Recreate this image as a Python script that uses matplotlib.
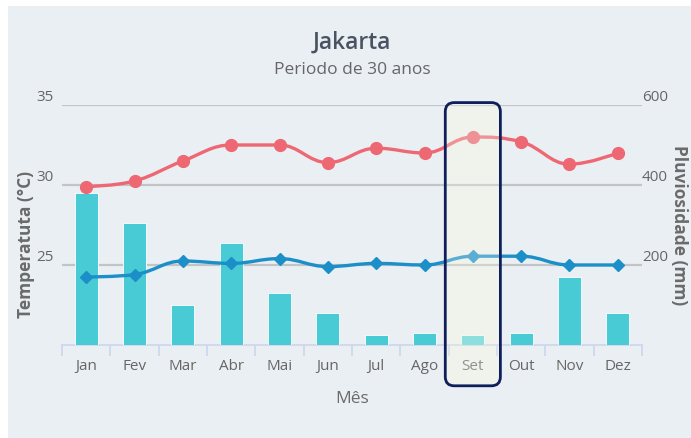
import matplotlib
matplotlib.use("Agg")
import matplotlib.pyplot as plt
from matplotlib.path import Path
from matplotlib.patches import PathPatch, Rectangle, FancyBboxPatch
from matplotlib.transforms import IdentityTransform
import numpy as np

plt.rcParams['font.family'] = ['Open Sans', 'DejaVu Sans']

months = ['Jan', 'Fev', 'Mar', 'Abr', 'Mai', 'Jun', 'Jul', 'Ago', 'Set', 'Out', 'Nov', 'Dez']
temp_max = [29.9, 30.25, 31.5, 32.5, 32.5, 31.4, 32.3, 32.0, 33.0, 32.7, 31.3, 32.0]
temp_min = [24.25, 24.4, 25.25, 25.1, 25.4, 24.9, 25.1, 25.0, 25.55, 25.55, 25.0, 25.0]
rain = [381, 306, 99, 256, 131, 81, 25, 31, 25, 31, 171, 81]
temp_ticks = [25, 30, 35]
rain_ticks = [200, 400, 600]
highlight = 'Set'

BG = '#EAEFF4'
RED = '#EE6873'
BLUE = '#1C8FC9'
BAR = '#48CBD5'
TXT = '#666666'


def spline_path(xs, ys):
    n = len(xs)
    lc = [(x, y) for x, y in zip(xs, ys)]
    rc = [(x, y) for x, y in zip(xs, ys)]
    s, d = 1.5, 2.5
    for i in range(1, n - 1):
        px, py = xs[i], ys[i]
        lx, ly = xs[i - 1], ys[i - 1]
        nx, ny = xs[i + 1], ys[i + 1]
        lcx = (s * px + lx) / d
        lcy = (s * py + ly) / d
        rcx = (s * px + nx) / d
        rcy = (s * py + ny) / d
        if rcx != lcx:
            corr = ((rcy - lcy) * (rcx - px)) / (rcx - lcx) + py - rcy
            lcy += corr
            rcy += corr
        if lcy > ly and lcy > py:
            lcy = max(ly, py)
            rcy = 2 * py - lcy
        elif lcy < ly and lcy < py:
            lcy = min(ly, py)
            rcy = 2 * py - lcy
        if rcy > ny and rcy > py:
            rcy = max(ny, py)
            lcy = 2 * py - rcy
        elif rcy < ny and rcy < py:
            rcy = min(ny, py)
            lcy = 2 * py - rcy
        lc[i] = (lcx, lcy)
        rc[i] = (rcx, rcy)
    verts = [(xs[0], ys[0])]
    codes = [Path.MOVETO]
    for i in range(1, n):
        verts += [rc[i - 1], lc[i], (xs[i], ys[i])]
        codes += [Path.CURVE4] * 3
    return Path(verts, codes)


fig = plt.figure(figsize=(6.91, 4.38), dpi=100, facecolor='white')
W, H = 691, 438
fig.patches.append(Rectangle((8 / W, 0), 1 - 8 / W, 1 - 6 / H, transform=fig.transFigure,
                             facecolor=BG, edgecolor='none', zorder=-10))

ax2 = fig.add_axes([62 / W, (H - 345) / H, 580 / W, 240 / H])
ax = ax2.twinx()
ax.yaxis.tick_left()
ax.yaxis.set_label_position('left')
ax2.yaxis.tick_right()
ax2.yaxis.set_label_position('right')
ax2.set_zorder(1)
ax.set_zorder(2)
ax.patch.set_visible(False)
ax2.patch.set_visible(False)

x = np.arange(len(months))
hi = months.index(highlight)

# bars (rain)
bar_colors = [BAR if m != highlight else '#62D6D6' for m in months]
ax2.bar(x, rain, width=0.47, color=bar_colors, edgecolor='white', linewidth=0.6, zorder=3)
ax2.set_ylim(0, 600)
ax2.set_yticks(rain_ticks)
ax2.grid(axis='y', color='#C2C4C6', linewidth=1.6, zorder=0)
ax2.set_axisbelow(True)

ax.set_ylim(20, 35)
ax.set_yticks(temp_ticks)
ax.set_xlim(-0.5, len(months) - 0.5)
ax2.set_xlim(-0.5, len(months) - 0.5)

# lines
for ys, col, mk, ms in [(temp_max, RED, 'o', 8.5), (temp_min, BLUE, 'D', 6)]:
    ax.add_patch(PathPatch(spline_path(list(x), ys), facecolor='none', edgecolor=col,
                           linewidth=2.4, zorder=4, capstyle='round'))
    ax.plot(x, ys, linestyle='none', marker=mk, markersize=ms, color=col,
            markeredgecolor=col, zorder=5)

# spines & ticks
for a in (ax, ax2):
    for sp in a.spines.values():
        sp.set_visible(False)
    a.tick_params(axis='y', length=0, labelsize=11, labelcolor=TXT)
ax2.spines['bottom'].set_visible(True)
ax2.spines['bottom'].set_color('#CCD6EB')
ax2.spines['bottom'].set_linewidth(1.2)
ax2.set_xticks(x)
ax2.set_xticklabels(months)
ax2.set_xticks(np.arange(-0.5, len(months)), minor=True)
ax2.tick_params(axis='x', which='major', length=0, labelsize=11, labelcolor=TXT, pad=10)
ax2.tick_params(axis='x', which='minor', length=8, color='#CCD6EB', width=1.2)
ax.tick_params(axis='x', which='both', bottom=False, labelbottom=False)
for lbl in ax.get_yticklabels() + ax2.get_yticklabels():
    lbl.set_verticalalignment('bottom')
ax.tick_params(axis='y', pad=6)
ax2.tick_params(axis='y', pad=0)

ax.set_ylabel('Temperatuta (°C)', fontsize=12.5, color='#6A6A6A', fontweight='bold')
ax2.set_ylabel('Pluviosidade (mm)', fontsize=12.5, color='#6A6A6A', fontweight='bold',
               rotation=270)
ax2.set_xlabel('Mês', fontsize=12.5, color='#6A6A6A', labelpad=12)
ax.yaxis.set_label_coords(-0.047, 0.42)
ax2.yaxis.set_label_coords(1.08, 0.5)

fig.text(352 / W, 1 - 43 / H, 'Jakarta', ha='center', va='center', fontsize=16.5,
         color='#4B5363', fontweight='semibold')
fig.text(352 / W, 1 - 70 / H, 'Periodo de 30 anos', ha='center', va='center', fontsize=12.5,
         color='#666666')

# highlight box around the selected month
fig.canvas.draw()
x0 = ax.transData.transform((hi - 0.57, 20))[0]
x1 = ax.transData.transform((hi + 0.57, 20))[0]
y0 = ax.transAxes.transform((0, -0.17))[1]
y1 = ax.transAxes.transform((0, 1.01))[1]
box = dict(boxstyle='round,pad=0,rounding_size=9', transform=IdentityTransform())
under = FancyBboxPatch((x0, y0), x1 - x0, y1 - y0, facecolor='#EFF3EC', edgecolor='none',
                       zorder=0.5, **box)
fig.patches.append(under)
fill = FancyBboxPatch((x0, y0), x1 - x0, y1 - y0, facecolor='#F0F4EC', edgecolor='none',
                      alpha=0.3, zorder=10, **box)
edge = FancyBboxPatch((x0, y0), x1 - x0, y1 - y0, facecolor='none', edgecolor='#0E1F5B',
                      linewidth=2, zorder=11, **box)
for p in (fill, edge):
    p.set_clip_on(False)
    ax.add_artist(p)

fig.savefig('out.png', dpi=100, facecolor='white')
